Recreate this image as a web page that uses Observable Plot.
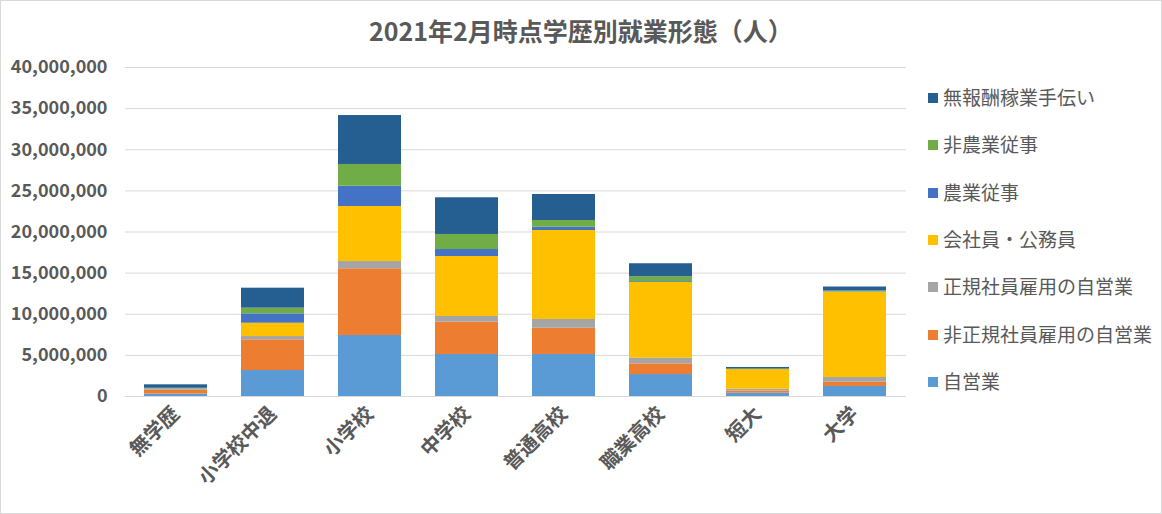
<!DOCTYPE html>
<html><head><meta charset="utf-8">
<script src="https://cdn.jsdelivr.net/npm/d3@7"></script>
<script src="https://cdn.jsdelivr.net/npm/@observablehq/plot@0.6"></script>
<style>
body{margin:0;background:#fff;font-family:"Noto Sans CJK JP","Noto Sans",sans-serif;}
#wrap{position:relative;width:1162px;height:514px;overflow:hidden;}
#title{position:absolute;left:0;width:1162px;top:13px;text-align:center;font-size:25px;line-height:34px;font-weight:bold;color:#595959;}
#legend{position:absolute;left:928px;top:86px;}
.li{position:absolute;white-space:nowrap;font-size:19px;color:#595959;line-height:22px;}
.sw{display:inline-block;width:10px;height:10px;margin-right:5px;vertical-align:2px;}
#border{position:absolute;left:0;top:0;width:1160px;height:512px;border:1px solid #d9d9d9;pointer-events:none;}
</style></head>
<body><div id="wrap"><div id="chart"></div><div id="title"></div><div id="legend"></div><div id="border"></div></div>
<script>
const title = "2021年2月時点学歴別就業形態（人）";
const categories = ["無学歴","小学校中退","小学校","中学校","普通高校","職業高校","短大","大学"];
const seriesNames = ["自営業","非正規社員雇用の自営業","正規社員雇用の自営業","会社員・公務員","農業従事","非農業従事","無報酬稼業手伝い"];
const colors = ["#5B9BD5","#ED7D31","#A5A5A5","#FFC000","#4472C4","#70AD47","#255E91"];
const selfEmployed      = [300000, 3160000, 7420000, 5110000, 5110000, 2670000, 400000, 1220000];
const nonRegularSelf    = [450000, 3730000, 8110000, 3930000, 3190000, 1300000, 250000, 520000];
const regularSelf       = [100000, 400000, 880000, 690000, 1060000, 690000, 240000, 570000];
const employees         = [50000, 1620000, 6690000, 7290000, 10820000, 9200000, 2390000, 10370000];
const farming           = [50000, 1140000, 2470000, 850000, 400000, 100000, 20000, 50000];
const nonFarming        = [50000, 690000, 2640000, 1830000, 820000, 600000, 30000, 100000];
const unpaidFamily      = [420000, 2430000, 5950000, 4460000, 3160000, 1580000, 200000, 480000];
const yTicks = [0,5000000,10000000,15000000,20000000,25000000,30000000,35000000,40000000];

const seriesValues = [selfEmployed, nonRegularSelf, regularSelf, employees, farming, nonFarming, unpaidFamily];
const rows = [];
seriesNames.forEach((s, si) => categories.forEach((c, ci) => rows.push({category: c, series: s, value: seriesValues[si][ci]})));

const chart = Plot.plot({
  width: 1162, height: 514,
  marginLeft: 125, marginRight: 256, marginTop: 67, marginBottom: 118,
  style: {fontFamily: '"Noto Sans CJK JP","Noto Sans",sans-serif', background: "transparent"},
  x: {domain: categories, paddingInner: 0.35, paddingOuter: 0.175, label: null},
  y: {domain: [0, 40000000], label: null},
  color: {domain: seriesNames, range: colors},
  marks: [
    Plot.gridY(yTicks, {stroke: "#d9d9d9", strokeOpacity: 1, strokeWidth: 1}),
    Plot.barY(rows, {x: "category", y: "value", fill: "series", order: seriesNames}),
    Plot.axisY(yTicks, {tickSize: 0, tickPadding: 18, tickFormat: d3.format(","), fontSize: 18, fontWeight: "bold", fill: "#595959", label: null}),
    Plot.axisX({tickSize: 0, tickPadding: 14, tickRotate: -45, fontSize: 20, fontWeight: "bold", fill: "#595959", label: null})
  ]
});
document.getElementById("chart").appendChild(chart);
document.getElementById("title").textContent = title;

const legend = document.getElementById("legend");
const order = seriesNames.map((s,i)=>i).reverse();
order.forEach((i, k) => {
  const d = document.createElement("div");
  d.className = "li";
  d.style.top = (k * 47.3) + "px";
  d.innerHTML = `<span class="sw" style="background:${colors[i]}"></span>${seriesNames[i]}`;
  legend.appendChild(d);
});
</script></body></html>
